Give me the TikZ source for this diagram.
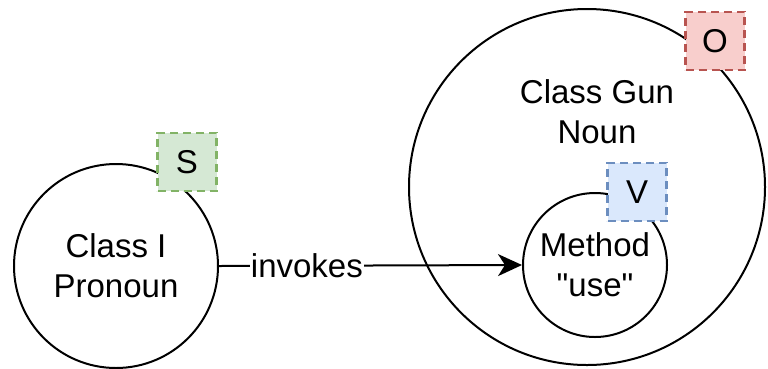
\documentclass[tikz,border=0pt]{standalone}
\usepackage{fontspec}
\setmainfont{Liberation Sans}
\usetikzlibrary{arrows.meta}
\definecolor{sfill}{HTML}{D5E8D4}\definecolor{sline}{HTML}{82B366}
\definecolor{vfill}{HTML}{DAE8FC}\definecolor{vline}{HTML}{6C8EBF}
\definecolor{ofill}{HTML}{F8CECC}\definecolor{oline}{HTML}{B85450}
\tikzset{
	ring/.style={circle, draw, line width=2pt, inner sep=0pt, align=center},
	tag/.style={rectangle, line width=2.6pt, dash pattern=on 8pt off 5pt, minimum width=59pt, minimum height=58pt, inner sep=0pt}
}

\begin{document}
\begin{tikzpicture}[x=1pt, y=-1pt, font=\fontsize{33}{40}\selectfont]
		%%%%% START %%%%%
		\useasboundingbox (0, 0) rectangle (768, 368);
		
		\node[ring, minimum size=204pt] (pron) at (116, 266) {Class I\\Pronoun};
		
		\node[ring, minimum size=356pt] (gun) at (587, 187) {};
		\node[align=center] (gunlbl) at (597, 112) {Class Gun\\Noun};
		\node[ring, minimum size=144pt] (use) at (595, 265) {Method\\\textquotedbl use\textquotedbl};
		
		\draw[line width=2pt, -{Stealth[length=24pt, width=22pt, inset=7pt]}] (pron.east) -- node[fill=white, pos=0.29, inner sep=1pt] (inv) {invokes} (use.west);
		
		\node[tag, fill=sfill, draw=sline] (s) at (187, 162) {S};
		\node[tag, fill=vfill, draw=vline] (v) at (637, 192) {V};
		\node[tag, fill=ofill, draw=oline] (o) at (715, 41) {O};
		%%%%% END %%%%%
	\end{tikzpicture}
\end{document}
